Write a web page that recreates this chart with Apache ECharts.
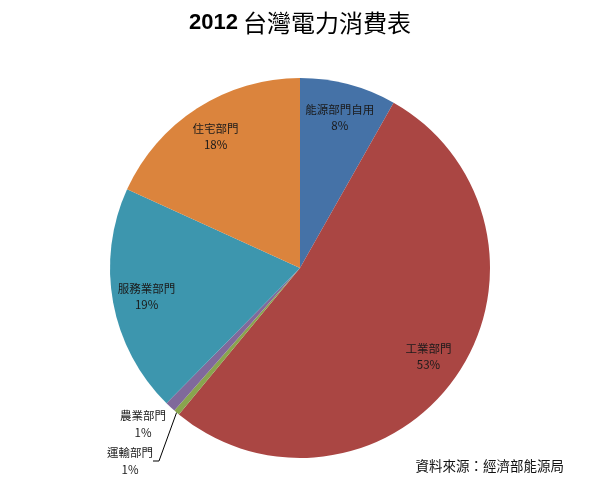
<!DOCTYPE html>
<html>
<head>
<meta charset="utf-8">
<script src="https://cdn.jsdelivr.net/npm/echarts@6/dist/echarts.min.js"></script>
<style>
html,body{margin:0;padding:0;background:#fff;}
#main{width:600px;height:500px;}
</style>
</head>
<body>
<div id="main"></div>
<script>
const categories = ['能源部門自用', '工業部門', '運輸部門', '農業部門', '服務業部門', '住宅部門'];
const values = [8.2, 52.8, 0.5, 0.9, 19.4, 18.2];
const colors = ['#4572A7', '#AA4643', '#89A54E', '#80699B', '#3D96AE', '#DB843D'];
const smallLabels = ['運輸部門', '農業部門'];
const titleYear = '2012';
const titleText = '台灣電力消費表';
const sourceText = '資料來源：經濟部能源局';

const cjk = '"Noto Sans CJK TC", "Noto Sans", sans-serif';
const fmt = p => p.name + '\n' + Math.round(p.percent) + '%';

const mainData = categories.map((c, i) => {
  const small = smallLabels.indexOf(c) >= 0;
  return {
    name: c,
    value: values[i],
    itemStyle: { color: colors[i] },
    label: { show: small },
    labelLine: { show: c === '運輸部門', length: 30, length2: 6 }
  };
});

const overlayData = categories.map((c, i) => ({
  name: c,
  value: values[i],
  label: { show: smallLabels.indexOf(c) < 0 }
}));

const chart = echarts.init(document.getElementById('main'), null, { renderer: 'canvas' });
chart.setOption({
  backgroundColor: '#ffffff',
  animation: false,
  title: {
    text: '{a|' + titleYear + '} {b|' + titleText + '}',
    left: 'center',
    top: 6,
    textStyle: {
      rich: {
        a: { fontFamily: '"Liberation Sans", "Noto Sans", sans-serif', fontWeight: 'bold', fontSize: 22, color: '#000' },
        b: { fontFamily: cjk, fontWeight: 'normal', fontSize: 24, color: '#000' }
      }
    }
  },
  graphic: [{
    type: 'text',
    right: 36,
    top: 459,
    style: { text: sourceText, font: '13.5px ' + cjk, fill: '#111' }
  }],
  series: [
    {
      type: 'pie',
      center: [300, 268],
      radius: [0, 190],
      startAngle: 90,
      clockwise: true,
      avoidLabelOverlap: false,
      silent: true,
      data: mainData,
      label: {
        position: 'outside',
        formatter: fmt,
        fontFamily: cjk,
        fontSize: 11.5,
        lineHeight: 17,
        color: '#1a1a1a',
        align: 'center'
      },
      labelLine: { lineStyle: { color: '#000', width: 1 } },
      labelLayout: function (p) {
        if (p.dataIndex === 2) {
          return { x: 130, y: 461, align: 'center', verticalAlign: 'middle' };
        }
        if (p.dataIndex === 3) {
          return { x: 143, y: 424, align: 'center', verticalAlign: 'middle' };
        }
      }
    },
    {
      type: 'pie',
      center: [300, 268],
      radius: [116, 190],
      startAngle: 90,
      clockwise: true,
      silent: true,
      avoidLabelOverlap: false,
      itemStyle: { color: 'rgba(0,0,0,0)' },
      data: overlayData,
      label: {
        position: 'inside',
        formatter: fmt,
        fontFamily: cjk,
        fontSize: 11.5,
        lineHeight: 16,
        color: '#1a1a1a'
      },
      labelLine: { show: false }
    }
  ]
});
</script>
</body>
</html>
